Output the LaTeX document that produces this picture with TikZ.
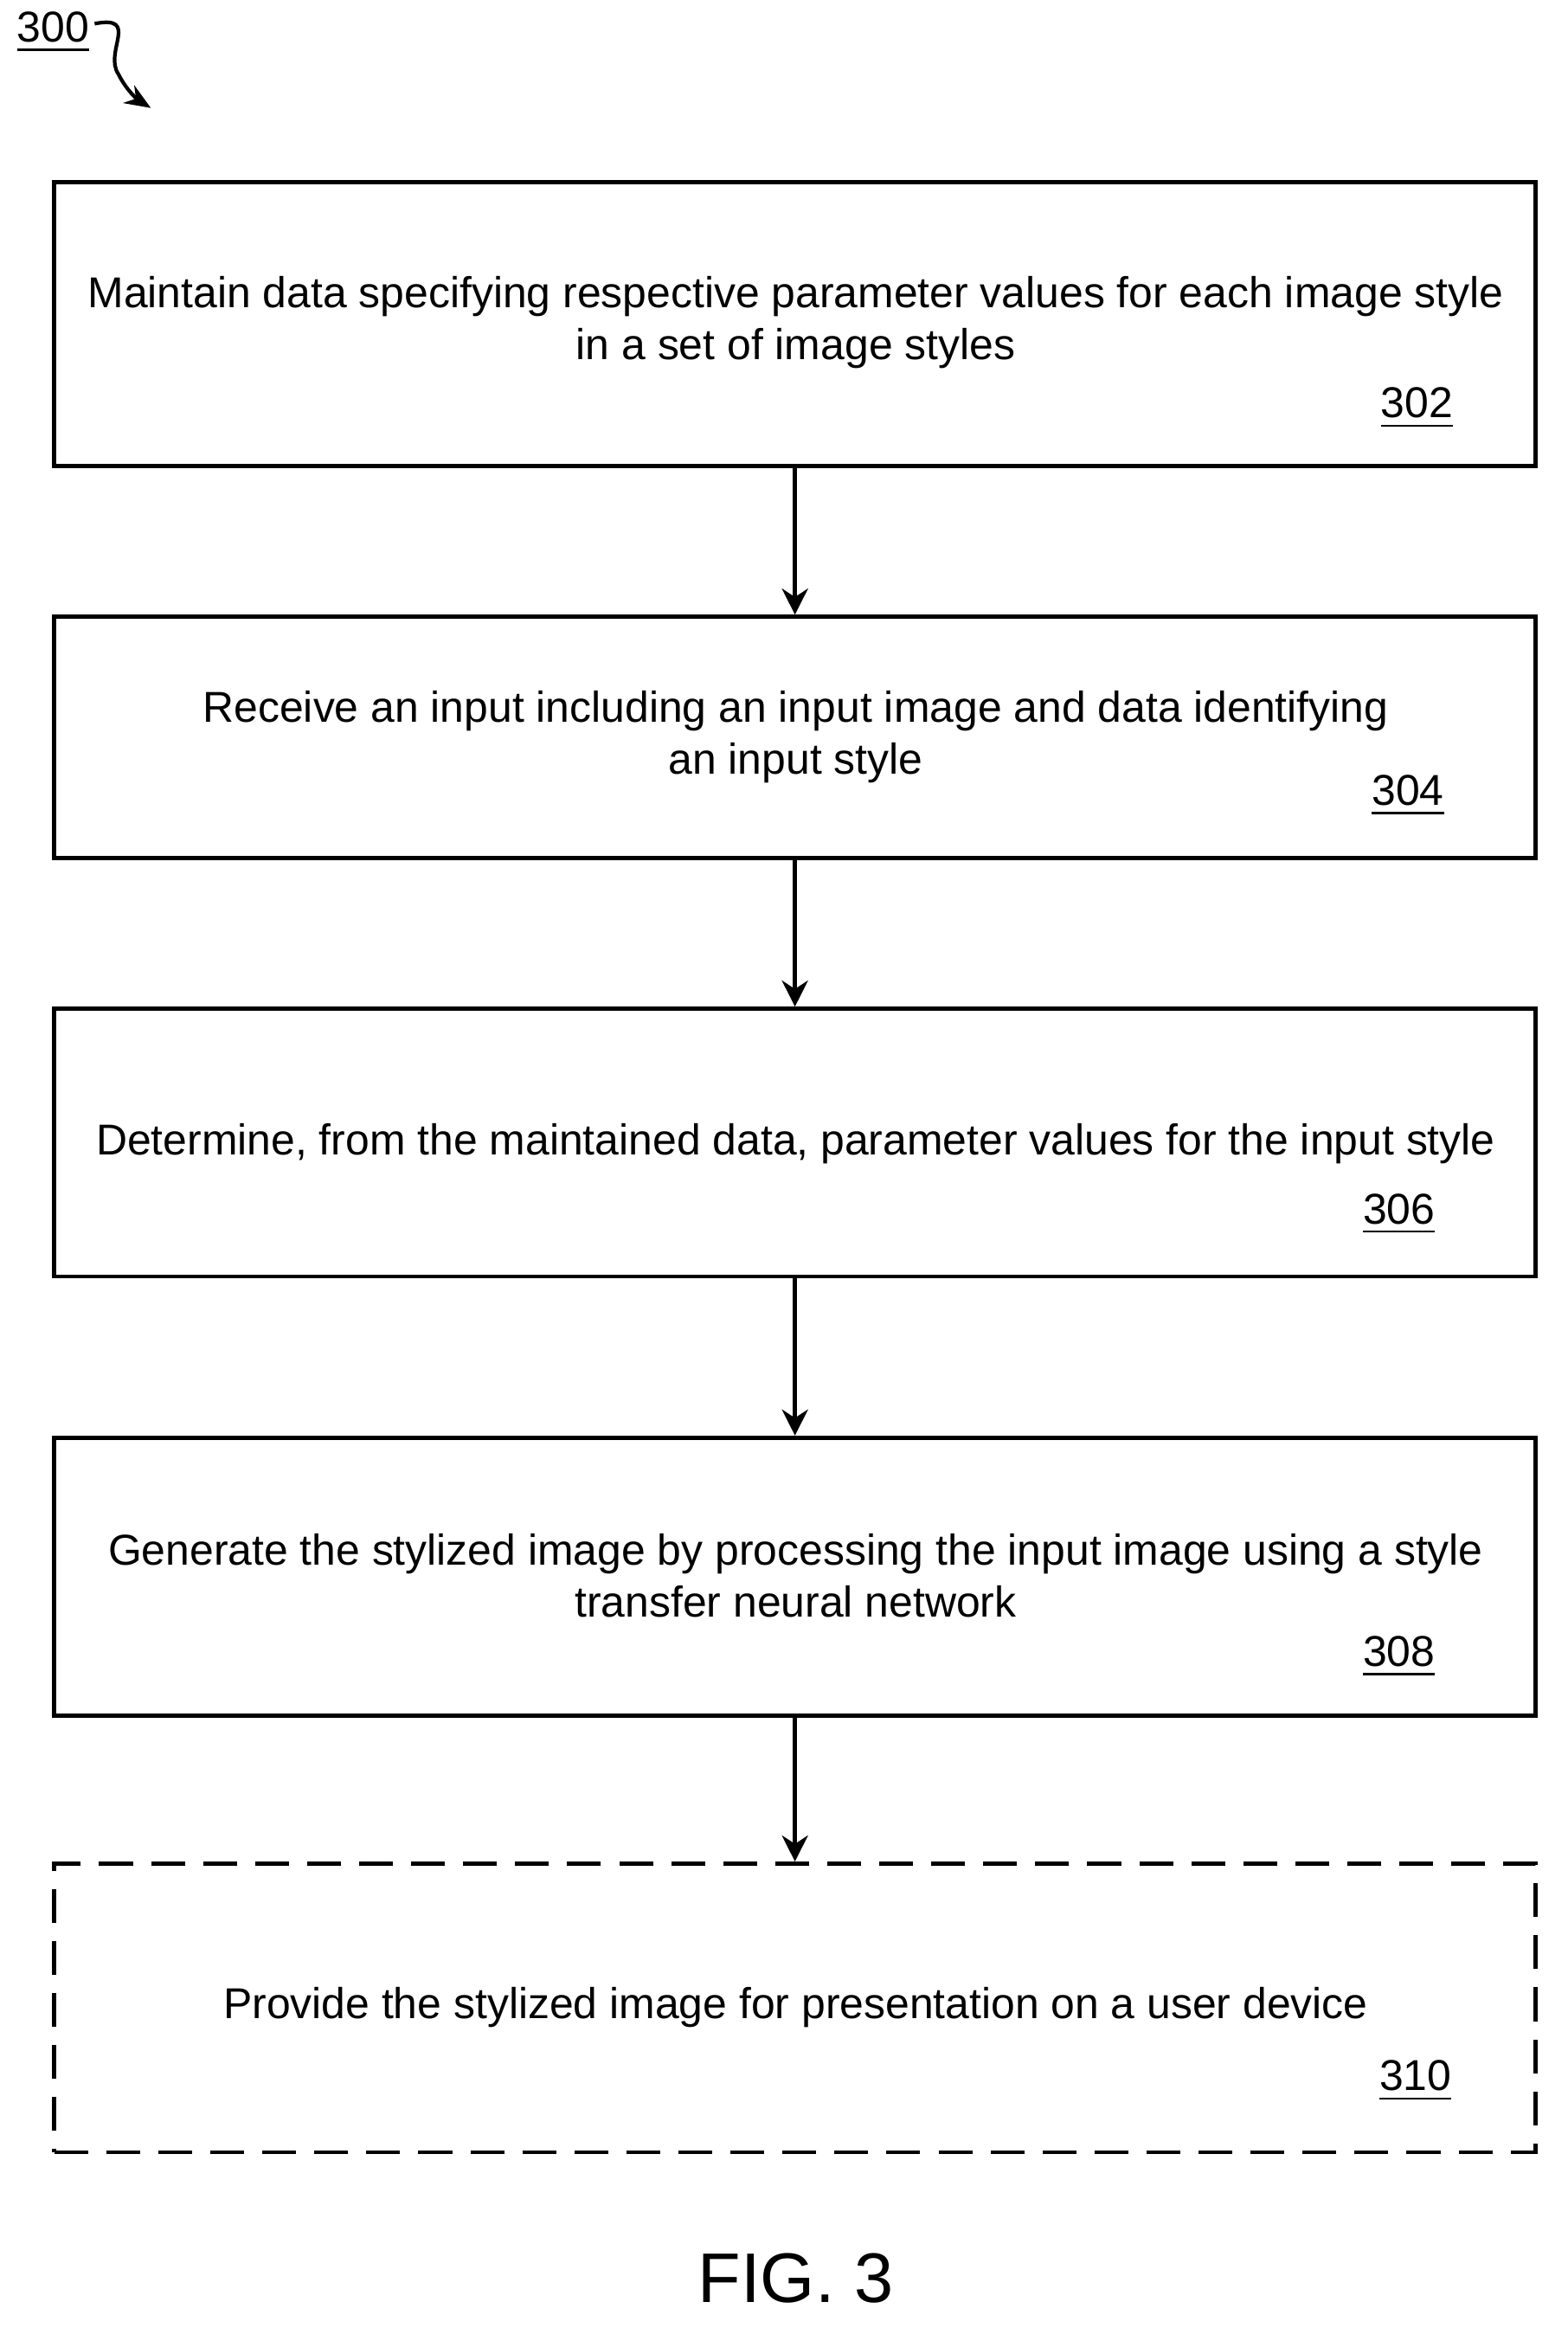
\documentclass[tikz,border=0pt]{standalone}
\usepackage{fontspec}
\setmainfont{Liberation Sans}
\usetikzlibrary{arrows.meta}
\begin{document}
\begin{tikzpicture}[x=0.01cm,y=-0.01cm,
    stepbox/.style={draw,line width=0.8pt,minimum width=10.01cm,inner sep=0pt},
    steptext/.style={align=center,font=\fontsize{8.3}{10}\selectfont},
    reflabel/.style={font=\fontsize{8.3}{10}\selectfont},
    flow/.style={-{Stealth[length=5pt,width=5pt]},line width=0.8pt}]
  \useasboundingbox (0,0) rectangle (1060,1578);
  % boxes
  \node[stepbox,minimum height=1.92cm] (s302) at (537.5,219) {};
  \node[stepbox,minimum height=1.63cm] (s304) at (537.5,498.5) {};
  \node[stepbox,minimum height=1.81cm] (s306) at (537.5,772.5) {};
  \node[stepbox,minimum height=1.88cm] (s308) at (537.5,1066) {};
  \node[stepbox,minimum height=1.95cm,dashed,dash pattern=on 6.5pt off 3.5pt] (s310) at (537.5,1357.5) {};
  % texts
  \node[steptext] (t302) at (538,218) {Maintain data specifying respective parameter values for each image style\\in a set of image styles};
  \node[steptext] (t304) at (538,498) {Receive an input including an input image and data identifying\\an input style};
  \node[steptext] (t306) at (538,773) {Determine, from the maintained data, parameter values for the input style};
  \node[steptext] (t308) at (538,1065) {Generate the stylized image by processing the input image using a style\\transfer neural network};
  \node[steptext] (t310) at (538,1357) {Provide the stylized image for presentation on a user device};
  % labels
  \node[reflabel] (l302) at (958,276) {\underline{302}};
  \node[reflabel] (l304) at (952,538) {\underline{304}};
  \node[reflabel] (l306) at (946,821) {\underline{306}};
  \node[reflabel] (l308) at (946,1120) {\underline{308}};
  \node[reflabel] (l310) at (957,1407) {\underline{310}};
  % arrows
  \draw[flow] (s302) -- (s304);
  \draw[flow] (s304) -- (s306);
  \draw[flow] (s306) -- (s308);
  \draw[flow] (s308) -- (s310);
  % figure number
  \node[reflabel] (l300) at (36,22) {\underline{300}};
  \coordinate (tip300) at (102,73);
  \draw[-{Stealth[length=5pt,width=4pt]},line width=0.7pt] (64,16) .. controls (95,10) and (70,35) .. (80,50) .. controls (86,62) and (94,68) .. (tip300);
  \node[font=\fontsize{13.5}{16}\selectfont] (fig) at (538,1540) {FIG. 3};
\end{tikzpicture}
\end{document}
